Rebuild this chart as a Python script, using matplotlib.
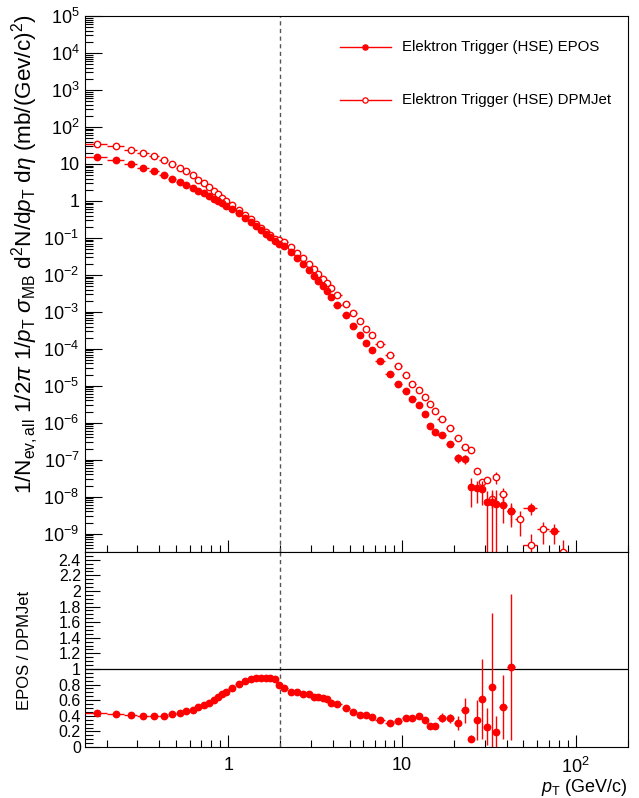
import numpy as np
import matplotlib
matplotlib.use("Agg")
import matplotlib.pyplot as plt
from matplotlib.ticker import FixedLocator, LogLocator, FuncFormatter, MultipleLocator, NullFormatter

nan = np.nan

# pT binning (GeV/c)
pt_edges = [0.15, 0.2, 0.25, 0.3, 0.35, 0.4, 0.45, 0.5, 0.55, 0.6, 0.65, 0.7, 0.75, 0.8, 0.85, 0.9, 0.95, 1.0,
            1.1, 1.2, 1.3, 1.4, 1.5, 1.6, 1.7, 1.8, 1.9, 2.0,
            2.2, 2.4, 2.6, 2.8, 3.0, 3.2, 3.4, 3.6, 3.8, 4.0,
            4.5, 5.0, 5.5, 6.0, 6.5, 7.0,
            8, 9, 10, 11, 12, 13, 14, 15, 16,
            18, 20, 22, 24, 26, 28, 30, 32, 34, 36,
            40, 45, 50, 60, 70, 80, 90]

epos = [15.8, 12.8, 10.2, 7.94, 6.3, 5.0, 4.0, 3.31, 2.75, 2.28, 1.89, 1.60, 1.35, 1.15, 0.99, 0.855, 0.74,
        0.60, 0.458, 0.351, 0.273, 0.21, 0.163, 0.129, 0.104, 0.083, 0.070,
        0.0596, 0.041, 0.0282, 0.0194, 0.0137, 0.00958, 0.00688, 0.00503, 0.0036, 0.00258,
        1.57e-3, 8.04e-4, 4.15e-4, 2.31e-4, 1.44e-4, 9.05e-5,
        4.67e-5, 2.07e-5, 1.15e-5, 7.01e-6, 4.26e-6, 3.06e-6, 1.74e-6, 8.09e-7, 5.56e-7,
        4.70e-7, 2.68e-7, 1.14e-7, 1.05e-7, 1.83e-8, 1.69e-8, 1.59e-8, 7.3e-9, 7.05e-9, 6.46e-9,
        5.96e-9, 4.1e-9, nan, 4.94e-9, nan, 1.17e-9, nan]
epos_err = [0.0] * 46 + [3e-7, 2e-7, 1.5e-7, 1.2e-7, 8e-8, 6e-8,
                         6e-8, 4e-8, 3e-8, 3e-8, 1.3e-8, 1.0e-8, 1.0e-8, 7.4e-9, 8e-9, 8.7e-9,
                         4e-9, 2.6e-9, nan, 1.8e-9, nan, 6.5e-10, nan]

dpmjet = [34.6, 30.5, 24.4, 19.7, 16.1, 12.5, 9.94, 7.74, 6.3, 4.91, 3.76, 3.04, 2.37, 1.84, 1.53, 1.22, 1.01,
          0.78, 0.565, 0.413, 0.314, 0.239, 0.183, 0.145, 0.117, 0.0954, 0.0875,
          0.077, 0.0575, 0.0396, 0.028, 0.020, 0.0147, 0.0107, 0.0079, 0.0059, 0.0045,
          2.83e-3, 1.59e-3, 9.3e-4, 5.58e-4, 3.52e-4, 2.31e-4,
          1.36e-4, 6.85e-5, 3.5e-5, 1.96e-5, 1.13e-5, 7.75e-6, 5.1e-6, 3.15e-6, 2.1e-6,
          1.25e-6, 7.35e-7, 3.85e-7, 2.26e-7, 1.81e-7, 5.07e-8, 2.55e-8, 2.89e-8, 8.83e-9, 3.48e-8,
          1.16e-8, 4.0e-9, 2.44e-9, 5.0e-10, 1.31e-9, nan, 3.2e-10]
dpmjet_err = [0.0] * 46 + [2e-7, 1.5e-7, 1.2e-7, 1e-7, 8e-8, 6e-8,
                           6e-8, 4e-8, 3e-8, 2e-8, 1.5e-8, 8e-9, 5e-9, 6e-9, 4e-9, 1.25e-8,
                           5.8e-9, 2e-9, 1.6e-9, 4.8e-10, 7.8e-10, nan, 3.5e-10]

ratio = [0.44, 0.42, 0.41, 0.40, 0.40, 0.40, 0.42, 0.44, 0.46, 0.48, 0.51, 0.54, 0.57, 0.60, 0.64, 0.68, 0.71,
         0.76, 0.81, 0.85, 0.87, 0.88, 0.89, 0.89, 0.89, 0.87, 0.80,
         0.76, 0.71, 0.71, 0.68, 0.68, 0.645, 0.64, 0.63, 0.615, 0.57,
         0.55, 0.50, 0.445, 0.41, 0.408, 0.391,
         0.349, 0.307, 0.328, 0.366, 0.378, 0.399, 0.340, 0.265, 0.265,
         0.378, 0.366, 0.303, 0.471, 0.109, 0.345, 0.618, 0.261, 0.773, 0.197,
         0.517, 1.025, nan, nan, nan, nan, nan]
ratio_err = [0.01] * 50 + [0.03, 0.03, 0.06, 0.06, 0.09, 0.16, 0.05, 0.26, 0.51, 0.24, 0.94, 0.2,
                           0.41, 0.94, nan, nan, nan, nan, nan]

pt_cut = 2.0
label_epos = "Elektron Trigger (HSE) EPOS"
label_dpm = "Elektron Trigger (HSE) DPMJet"

plt.rcParams['font.family'] = ['Liberation Sans', 'DejaVu Sans']
plt.rcParams['mathtext.fontset'] = 'custom'
plt.rcParams['mathtext.rm'] = 'Liberation Sans'
plt.rcParams['mathtext.it'] = 'Liberation Sans:italic'
plt.rcParams['mathtext.bf'] = 'Liberation Sans:bold'
plt.rcParams['axes.linewidth'] = 0.8

edges = np.array(pt_edges)
pt = 0.5 * (edges[:-1] + edges[1:])
pt_w = 0.5 * (edges[1:] - edges[:-1])

fig = plt.figure(figsize=(6.39, 7.98), dpi=100)
ax = fig.add_axes([0.1330, 0.3083, 0.8498, 0.6717])
axr = fig.add_axes([0.1330, 0.0639, 0.8498, 0.2444])

red = '#ff0000'
ms = 4.6
ax.errorbar(pt, dpmjet, xerr=pt_w, yerr=dpmjet_err, fmt='o', color=red, mfc='white', mec=red,
            mew=1.0, ms=ms, elinewidth=1.0, capsize=0, zorder=3)
ax.errorbar(pt, epos, xerr=pt_w, yerr=epos_err, fmt='o', color=red, ms=ms,
            elinewidth=1.0, capsize=0, zorder=4)
axr.errorbar(pt, ratio, xerr=pt_w, yerr=ratio_err, fmt='o', color=red, ms=ms,
             elinewidth=1.0, capsize=0, zorder=4)

for a in (ax, axr):
    a.axvline(pt_cut, color='#555555', lw=1.0, ls=(0, (3, 2.5)), zorder=2)
axr.axhline(1.0, color='black', lw=0.9, zorder=2)

def log_label(v, pos):
    e = int(round(np.log10(v)))
    if e == 0:
        return '1'
    if e == 1:
        return '10'
    return r'$10^{%d}$' % e

for a in (ax, axr):
    a.set_xscale('log')
    a.set_xlim(0.15, 200)
    a.xaxis.set_major_locator(FixedLocator([1, 10, 100]))
    a.xaxis.set_minor_locator(LogLocator(base=10, subs=np.arange(2, 10), numticks=100))
    a.xaxis.set_minor_formatter(NullFormatter())
    a.tick_params(which='both', direction='in', top=False, right=False, width=0.8, color='black')

ax.set_yscale('log')
ax.set_ylim(3.2e-10, 1e5)
ax.yaxis.set_major_locator(FixedLocator([1e-9, 1e-8, 1e-7, 1e-6, 1e-5, 1e-4, 1e-3, 1e-2, 1e-1,
                                         1, 10, 1e2, 1e3, 1e4, 1e5]))
ax.yaxis.set_minor_locator(LogLocator(base=10, subs=np.arange(2, 10), numticks=200))
ax.yaxis.set_major_formatter(FuncFormatter(log_label))
ax.yaxis.set_minor_formatter(NullFormatter())
ax.tick_params(axis='x', which='major', length=9, labelbottom=False)
ax.tick_params(axis='x', which='minor', length=5)
ax.tick_params(axis='y', which='major', length=12, labelsize=13, pad=4)
ax.tick_params(axis='y', which='minor', length=6)

axr.set_ylim(0, 2.5)
axr.yaxis.set_major_locator(MultipleLocator(0.2))
axr.yaxis.set_minor_locator(MultipleLocator(0.05))
axr.yaxis.set_major_formatter(FuncFormatter(lambda v, p: '0' if abs(v) < 1e-9 else ('%g' % round(v, 1))))
axr.xaxis.set_major_formatter(FuncFormatter(log_label))
axr.tick_params(axis='x', which='major', length=9, labelsize=13, pad=7)
axr.tick_params(axis='x', which='minor', length=5)
axr.tick_params(axis='y', which='major', length=11, labelsize=11.5, pad=3)
axr.tick_params(axis='y', which='minor', length=5.5)

# legend drawn in axes coordinates
rows = [(0.942, label_epos, 'red'), (0.843, label_dpm, 'white')]
for y, lab, fc in rows:
    ax.plot([0.470, 0.563], [y, y], color=red, lw=1.0, transform=ax.transAxes)
    ax.plot([0.5165], [y], marker='o', ms=3.8, mfc=fc, mec=red, mew=0.9, color=red, transform=ax.transAxes)
    ax.text(0.584, y, lab, transform=ax.transAxes, ha='left', va='center', fontsize=10.8)

fig.text(25 / 639, 1 - 14 / 798,
         r'1/N$_{\rm ev,all}$ 1/2$\pi$ 1/$p_{\rm T}$ $\sigma_{\rm MB}$ d$^{2}$N/d$p_{\rm T}$ d$\eta$ (mb/(Gev/c)$^{2}$)',
         rotation=90, ha='center', va='top', fontsize=16.2)
fig.text(25 / 639, 1 - 650 / 798, 'EPOS / DPMJet', rotation=90, ha='center', va='center', fontsize=12)
fig.text(628 / 639, 1 - 787 / 798, r'$p_{\rm T}$ (GeV/c)', ha='right', va='center', fontsize=13)

fig.savefig('out.png', dpi=100)
